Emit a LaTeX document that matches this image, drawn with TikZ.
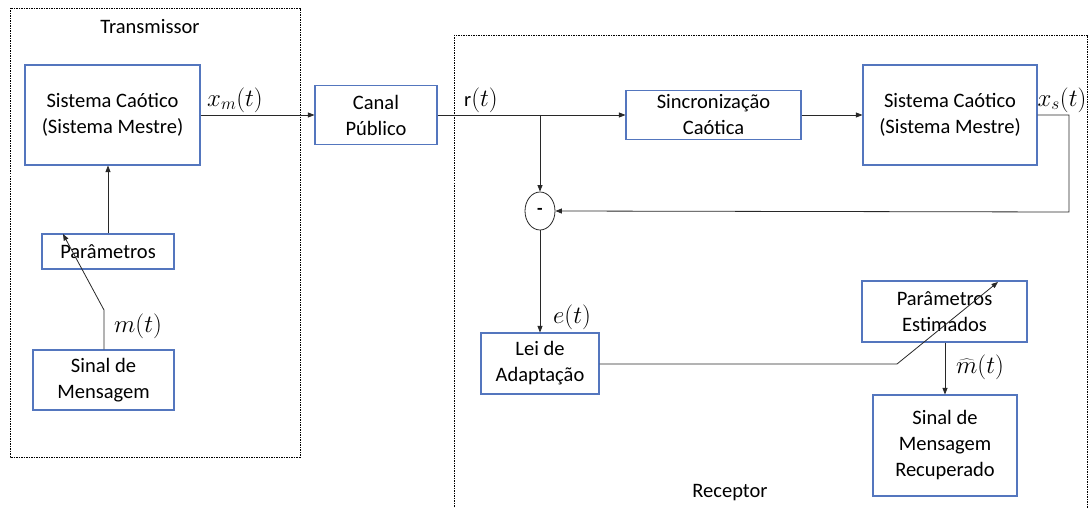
\documentclass[tikz,border=0pt]{standalone}
\usepackage{fontspec}
\setmainfont{Carlito}
\usetikzlibrary{arrows.meta,shapes.geometric}
\definecolor{boxblue}{RGB}{84,118,190}
\definecolor{linegray}{RGB}{40,40,40}
\tikzset{
  blk/.style={draw=boxblue, line width=1.1pt, rectangle, align=center, inner sep=0pt, font=\fontsize{20.5}{26}\selectfont},
  arr/.style={draw=linegray, line width=0.8pt, -{Triangle[length=6.5pt,width=5pt]}},
  ln/.style={draw=linegray, line width=0.8pt},
  frame/.style={draw=black, line width=0.6pt, dash pattern=on 1.5pt off 1pt},
  lbl/.style={font=\fontsize{20.5}{26}\selectfont, inner sep=0pt},
  mlbl/.style={font=\fontsize{24.5}{28}\selectfont, inner sep=0pt}
}
\begin{document}
\begin{tikzpicture}[x=1pt,y=-1pt]
\useasboundingbox (0,0) rectangle (1088,508);
\clip (0,0) rectangle (1088,508);
% frames
\draw[frame] (10,8) rectangle (300,457);
\draw[frame] (454,35) rectangle (1087,530);
\node[lbl] (ttx) at (150,27) {Transmissor};
\node[lbl] (trx) at (730,493) {Receptor};
% blocks
\node[blk, minimum width=175pt, minimum height=100pt] (sc1) at (112.5,115) {Sistema Caótico\\(Sistema Mestre)};
\node[blk, minimum width=132pt, minimum height=35pt] (par) at (108,251.5) {Parâmetros};
\node[blk, minimum width=141pt, minimum height=60pt] (msg) at (103.5,380) {Sinal de\\Mensagem};
\node[blk, minimum width=122pt, minimum height=59pt] (canal) at (376,115) {Canal\\Público};
\node[blk, minimum width=175pt, minimum height=49pt] (sinc) at (713.5,115) {Sincronização\\Caótica};
\node[blk, minimum width=174pt, minimum height=100pt] (sc2) at (950,115) {Sistema Caótico\\(Sistema Mestre)};
\node[draw=linegray, line width=0.8pt, ellipse, minimum width=30pt, minimum height=38pt, inner sep=0pt, font=\fontsize{18}{20}\selectfont\bfseries] (circ) at (540,211) {-};
\node[blk, minimum width=118pt, minimum height=61pt] (lei) at (540,363.5) {Lei de\\Adaptação};
\node[blk, minimum width=165pt, minimum height=61pt] (pe) at (944.5,311.5) {Parâmetros\\Estimados};
\node[blk, minimum width=144pt, minimum height=101pt] (rec) at (945,445.5) {Sinal de\\Mensagem\\Recuperado};
% coordinates
\coordinate (mbend) at (104,310);
\coordinate (pin) at (63,234);
\coordinate (j) at (540,115);
\coordinate (fb1) at (1069,115);
\coordinate (fb2) at (1069,212);
\coordinate (lbend) at (897,364);
\coordinate (ptip) at (998,282);
% connectors
\draw[arr] (sc1.east) -- (canal.west);
\draw[arr] (par.north) -- (par.north |- sc1.south);
\draw[arr] (msg.north -| mbend) -- (mbend) -- (pin);
\draw[ln] (canal.east) -- (j);
\draw[arr] (j) -- (sinc.west);
\draw[arr] (j) -- (circ.north);
\draw[arr] (sinc.east) -- (sc2.west);
\draw[arr] (sc2.east) -- (fb1) -- (fb2) -- (circ.east);
\draw[arr] (circ.south) -- (lei.north);
\draw[arr] (lei.east |- lbend) -- (lbend) -- (ptip);
\draw[arr] (pe.south -| rec.north) -- (rec.north);
% labels
\node[mlbl] (lxm) at (235,100) {$x_m(t)$};
\node[mlbl] (lm) at (138,326) {$m(t)$};
\node[lbl] (lr) at (481,100) {r\fontsize{24.5}{28}\selectfont$(t)$};
\node[mlbl] (lxs) at (1062,100) {$x_s(t)$};
\node[mlbl] (le) at (572,317) {$e(t)$};
\node[mlbl] (lmh) at (980,367) {$\widehat{m}(t)$};
\end{tikzpicture}
\end{document}
